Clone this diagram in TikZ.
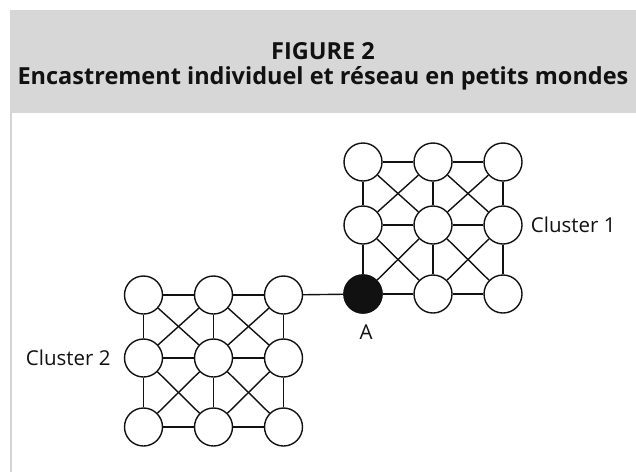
\documentclass[tikz,border=0pt]{standalone}
\usepackage{fontspec}
\setmainfont{Open Sans}
\usetikzlibrary{positioning}
\definecolor{band}{HTML}{D6D7D6}
\definecolor{rulegray}{HTML}{D4D4D4}
\definecolor{ink}{HTML}{111111}
\tikzset{
  member/.style={circle, draw=ink, fill=white, line width=1.4pt,
    minimum size=38pt, inner sep=0pt},
  link/.style={draw=ink, line width=1.4pt},
  tag/.style={inner sep=0pt, font=\fontsize{20.5}{24}\selectfont, text=ink},
  heading/.style={inner sep=0pt, font=\bfseries\fontsize{23.5}{28}\selectfont, text=ink},
}
\begin{document}
\begin{tikzpicture}[x=1pt,y=-1pt]
  \useasboundingbox (0,0) rectangle (636,472);
  % header band and side rule
  \fill[band] (10,10) rectangle (636,113);
  \draw[rulegray, line width=2pt] (11,113) -- (11,472);
  \node[heading] (fig) at (323,51) {FIGURE 2};
  \node[heading] (title) at (323,78) {Encastrement individuel et réseau en petits mondes};
  % the two clusters
  \foreach \c/\ox/\oy in {1/363/162, 2/143.5/295}{
    \foreach \i/\dx in {1/0, 2/70, 3/140}
      \foreach \j/\dy in {1/0, 2/63, 3/132}
        \node[member] (c\c-\i-\j) at (\ox+\dx,\oy+\dy) {};
    \foreach \i [count=\k from 2] in {1,2}{
      \foreach \j in {1,2,3}{
        \draw[link] (c\c-\i-\j) -- (c\c-\k-\j);
        \draw[link] (c\c-\j-\i) -- (c\c-\j-\k);
      }
      \foreach \j [count=\m from 2] in {1,2}{
        \draw[link] (c\c-\i-\j) -- (c\c-\k-\m);
        \draw[link] (c\c-\k-\j) -- (c\c-\i-\m);
      }
    }
  }
  \node[member, fill=ink] (A) at (c1-1-3) {};
  \draw[link] (c2-3-1) -- (A);
  \node[tag, below=11pt of A, xshift=3pt] (lblA) {A};
  \node[tag, right=8pt of c1-3-2] (lbl1) {Cluster 1};
  \node[tag, left=13pt of c2-1-2] (lbl2) {Cluster 2};
\end{tikzpicture}
\end{document}
